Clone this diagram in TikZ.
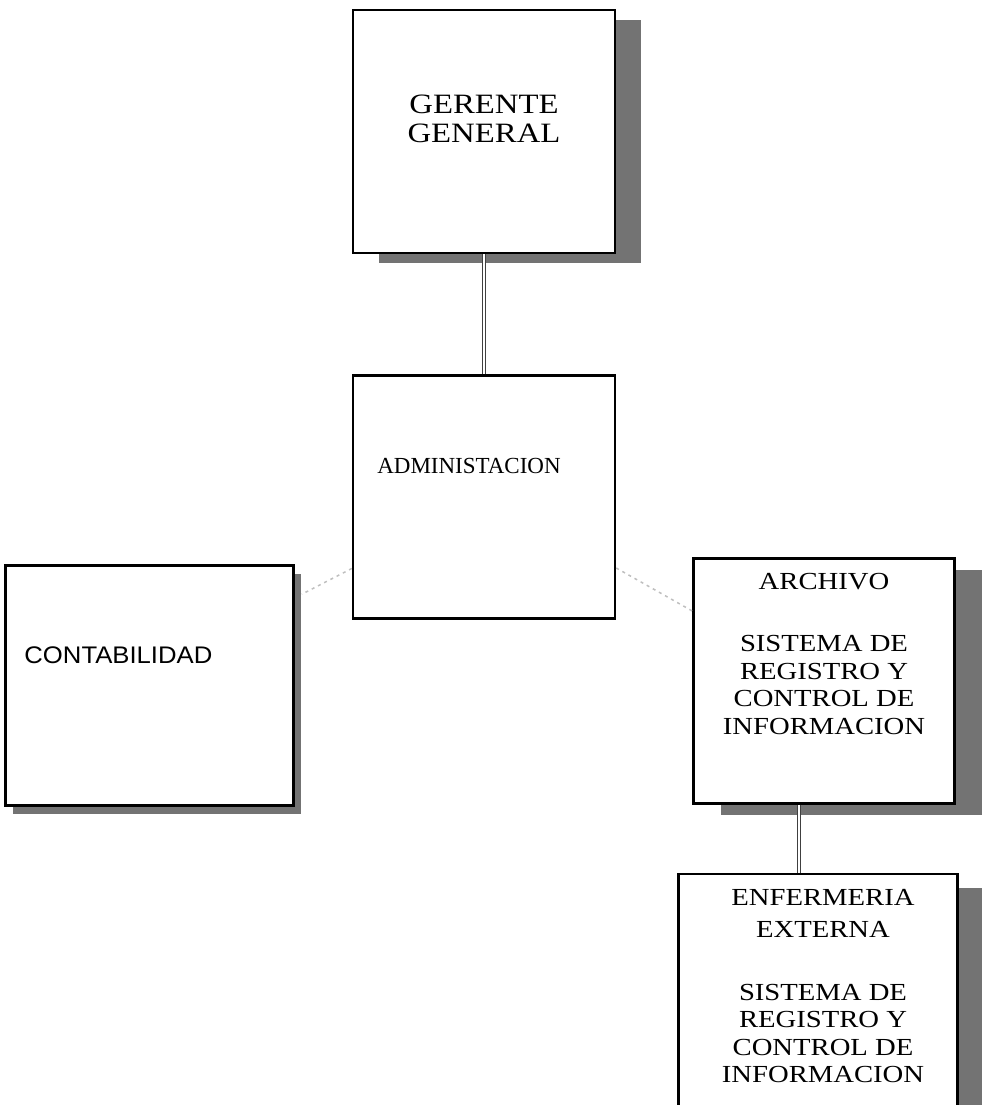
\documentclass[tikz,border=0pt]{standalone}
\usepackage{fontspec}
\newfontfamily\boxserif[FakeStretch=1.17]{Liberation Serif}
\newfontfamily\adminserif{Liberation Serif}
\newfontfamily\boxsans[FakeStretch=1.07]{Liberation Sans}
\usetikzlibrary{positioning, shadows}
\tikzstyle{unit} =[rectangle, draw=black, line width=2.5pt, fill=white, minimum width=262pt, minimum height=243pt]
\tikzset{boxshadow/.style 2 args={general shadow={fill=black!55, draw=none, shadow xshift=#1, shadow yshift=#2}}}
\tikzstyle{boxtext} =[align=center, inner sep=0pt, font=\boxserif\fontsize{24.5}{27.5}\selectfont]
\tikzstyle{link} =[line width=1pt, double=white, double distance=1.5pt, draw=black!75]
\tikzstyle{faint} =[line width=1.5pt, draw=black!25, dash pattern=on 3pt off 4pt]
\begin{document}
\begin{tikzpicture}[x=1pt, y=-1pt]
\useasboundingbox (0,0) rectangle (982,1105);
\clip (0,0) rectangle (982,1105);
\node (gerente) [unit, boxshadow={26pt}{-10pt}] at (484,131.5) {};
\node (admin) [unit, below=120pt of gerente] {};
\node (contab) [unit, boxshadow={7pt}{-8pt}, minimum width=288pt, minimum height=240pt, left=57pt of admin, yshift=-188.5pt] {};
\node (archivo) [unit, boxshadow={27pt}{-11pt}, minimum width=261pt, minimum height=245pt, right=76pt of admin, yshift=-184pt] {};
\node (enfermeria) [unit, boxshadow={24pt}{-14pt}, minimum width=279pt, minimum height=280pt, below=68pt of archivo, xshift=-6pt] {};
% texts
\node (gerentetxt) [boxtext, font=\boxserif\fontsize{28}{29}\selectfont, below=86pt of gerente.north] {GERENTE\\GENERAL};
\node (admintxt) [boxtext, font=\adminserif\fontsize{23}{27}\selectfont, below=84pt of admin.north, xshift=-15pt] {ADMINISTACION};
\node (contabtxt) [boxtext, font=\boxsans\fontsize{24}{27}\selectfont, right=20pt of contab.west, yshift=30pt] {CONTABILIDAD};
\node (archivotxt) [boxtext, below=16pt of archivo.north] {ARCHIVO\\[34.5pt]SISTEMA DE\\REGISTRO Y\\CONTROL DE\\INFORMACION};
\node (enfermeriatxt) [boxtext, below=16pt of enfermeria.north, xshift=5pt] {ENFERMERIA\\[4.5pt]EXTERNA\\[35.5pt]SISTEMA DE\\REGISTRO Y\\CONTROL DE\\INFORMACION};
% connectors
\draw [link] (gerente) -- (admin);
\draw [link] ([xshift=-25pt]archivo.south) -- ([xshift=-25pt]archivo.south |- enfermeria.north);
\draw [faint] ([yshift=-71.5pt]admin.west) -- ([xshift=7pt, yshift=-30pt]contab.north east);
\draw [faint] ([yshift=-71pt]admin.east) -- ([yshift=70pt]archivo.west);
\end{tikzpicture}
\end{document}
